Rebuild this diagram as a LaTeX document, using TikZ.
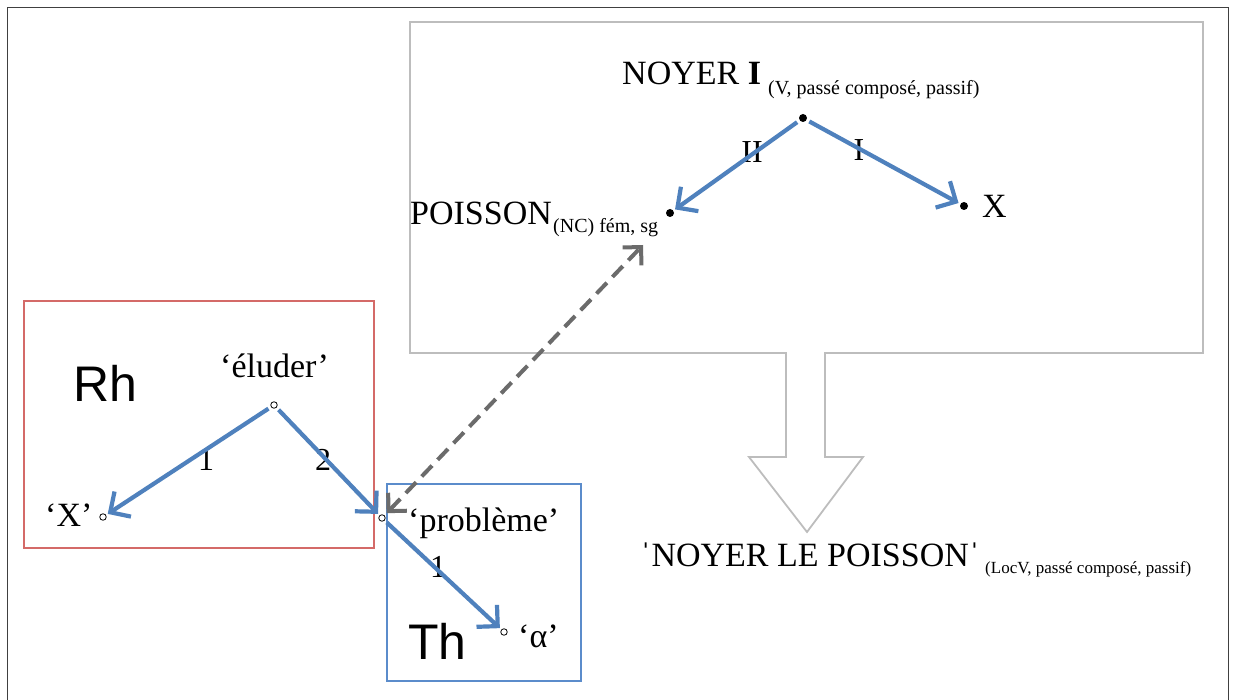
\documentclass[tikz,border=0pt]{standalone}
\usepackage{fontspec}
\setmainfont{Liberation Serif}
\newfontfamily\sansf{Liberation Sans}
\usetikzlibrary{arrows.meta}
\definecolor{offblue}{HTML}{4F81BD}
\definecolor{boxblue}{HTML}{5B8CCB}
\definecolor{boxred}{HTML}{D46A68}
\definecolor{boxgray}{HTML}{BDBDBD}
\definecolor{dashgray}{HTML}{6B6B6B}
\begin{document}
\begin{tikzpicture}[x=1pt,y=-1pt,
  lbl/.style={inner sep=0pt, anchor=base west, font=\fontsize{34}{38}\selectfont},
  sub/.style={inner sep=0pt, anchor=base west, font=\fontsize{20}{22}\selectfont},
  subs/.style={inner sep=0pt, anchor=base west, font=\fontsize{17}{20}\selectfont},
  big/.style={inner sep=0pt, anchor=base west, font=\sansf\fontsize{50}{56}\selectfont},
  num/.style={inner sep=0pt, font=\fontsize{32}{34}\selectfont},
  bdot/.style={circle, fill=black, inner sep=0pt, minimum size=8pt},
  odot/.style={circle, draw=black, line width=0.8pt, fill=white, inner sep=0pt, minimum size=6.5pt},
  barrow/.style={draw=offblue, line width=4.2pt, line cap=butt,
    -{Straight Barb[length=15pt,width=30pt]}, shorten >=2pt, shorten <=3pt},
  darrow/.style={draw=dashgray, line width=4pt, dash pattern=on 15pt off 8pt,
    {Straight Barb[length=13pt,width=26pt]}-{Straight Barb[length=13pt,width=26pt]}},
  shapeline/.style={draw=boxgray, line width=1.8pt, line join=miter}
]
\useasboundingbox (0,0) rectangle (1235,700);
% outer frame
\draw[line width=1pt, draw=black!75] (7,705) -- (7,8) -- (1228,8) -- (1228,705);

% gray box with arrow
\draw[shapeline] (786,457) -- (786,353) -- (410,353) -- (410,22) -- (1203,22) -- (1203,353)
  -- (825,353) -- (825,457) -- (863,457) -- (807,532) -- (749,457) -- cycle;

% red and blue boxes
\draw[draw=boxred, line width=1.5pt] (24,301) rectangle (374,548);
\draw[draw=boxblue, line width=1.5pt] (387,484) rectangle (581,681);

% dots
\node[bdot] (noyer) at (803,118) {};
\node[bdot] (poisson) at (670,213) {};
\node[bdot] (xdot) at (964,206) {};
\node[odot] (elud) at (274,405) {};
\node[odot] (xq) at (103,517) {};
\node[odot] (prob) at (382,518) {};
\node[odot] (alpha) at (504,632) {};
\coordinate (dashend) at (643,245);

% texts
\node[lbl] (noyerT) at (622,85) {NOYER \textbf{I}};
\node[sub] (noyerS) at (768,95) {(V, passé composé, passif)};
\node[lbl] (poissonT) at (410,225) {POISSON};
\node[sub] (poissonS) at (553,233) {(NC) fém, sg};
\node[lbl] (xT) at (982,218) {X};
\node[lbl] (eludT) at (220,378) {‘éluder’};
\node[lbl] (xqT) at (45,526) {‘X’};
\node[lbl] (probT) at (408,531) {‘problème’};
\node[lbl] (alphaT) at (518,647) {‘α’};
\node[lbl] (locT) at (640,566) {ˈNOYER LE POISSONˈ};
\node[subs] (locS) at (985,573) {(LocV, passé composé, passif)};
\node[big] (rh) at (73,402) {Rh};
\node[big] (th) at (408,659) {Th};

% labels
\node[num] (lII) at (752,152) {II};
\node[num] (lI) at (859,150) {I};
\node[num] (l1a) at (206,460) {1};
\node[num] (l2) at (323,460) {2};
\node[num] (l1b) at (438,567) {1};

% arrows
\draw[barrow] (noyer) -- (poisson);
\draw[barrow] (noyer) -- (xdot);
\draw[barrow] (elud) -- (xq);
\draw[barrow] (elud) -- (prob);
\draw[barrow] (prob) -- (alpha);
\draw[darrow, shorten <=3pt] (prob) -- (dashend);
\end{tikzpicture}
\end{document}
